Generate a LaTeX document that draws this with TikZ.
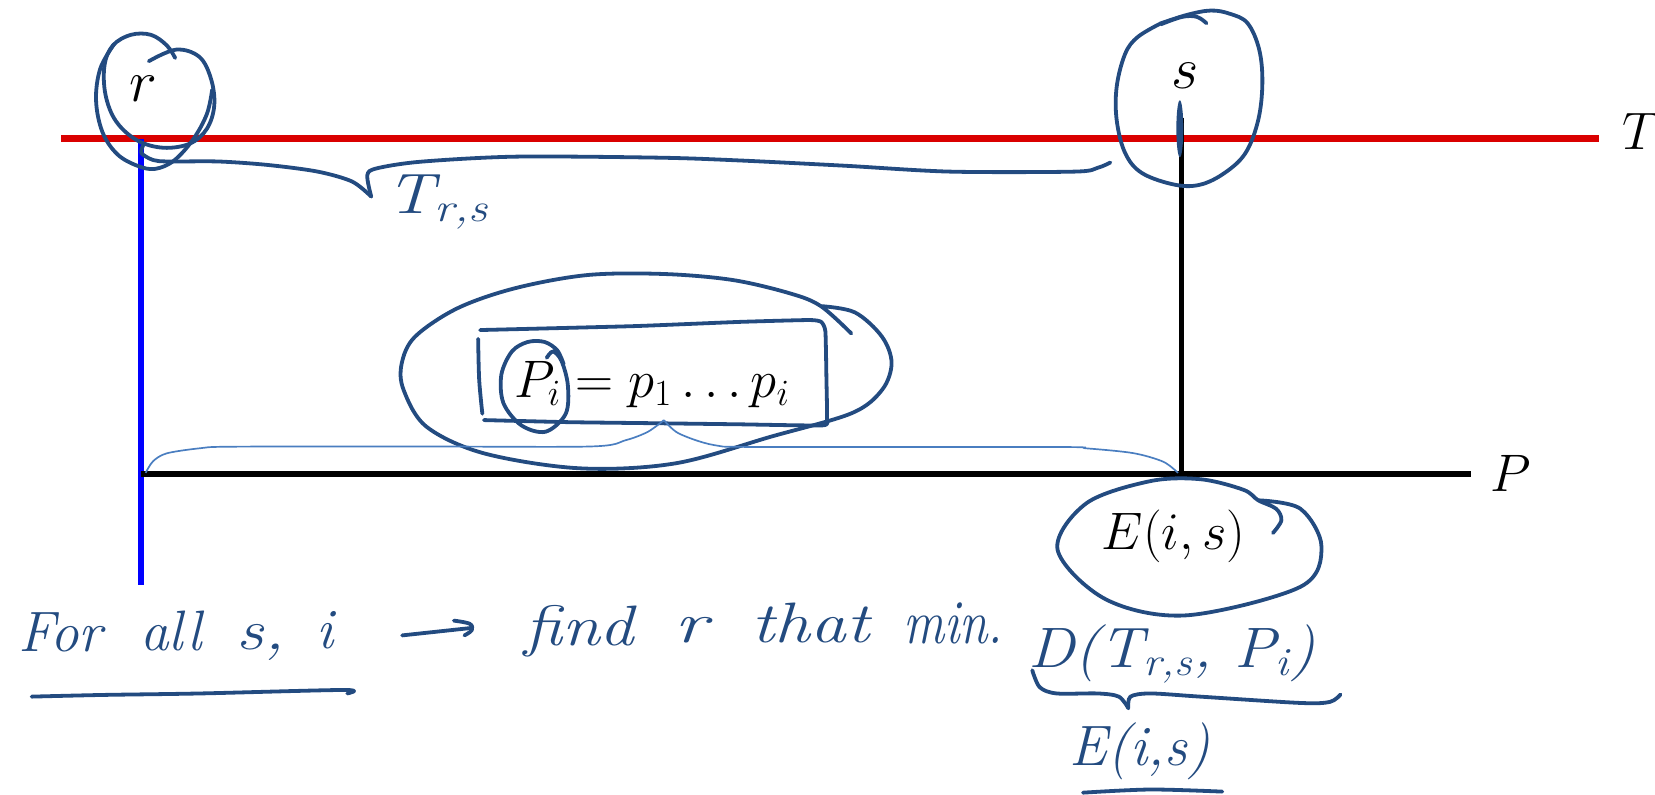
\RequirePackage{fix-cm}
\documentclass[tikz,border=0pt]{standalone}
\definecolor{ink}{HTML}{234B80}
\definecolor{redline}{HTML}{DA0000}
\definecolor{thinblue}{HTML}{4A7EC0}
\begin{document}
\begin{tikzpicture}[x=0.5pt,y=-0.5pt,
  hand/.style={draw=ink,line width=1.8pt,line cap=round,line join=round},
  htxt/.style={text=ink,font=\fontsize{27}{32}\selectfont\itshape,inner sep=0pt,anchor=base},
  mtxt/.style={font=\fontsize{25}{30}\selectfont,inner sep=0pt,anchor=base},
  mbig/.style={font=\fontsize{28}{32}\selectfont,inner sep=0pt,anchor=base}]
\useasboundingbox (0,0) rectangle (1568,753);

% straight lines
\coordinate (Tl) at (58,131.4);
\coordinate (Tr) at (1515,131.4);
\coordinate (Bt) at (133.3,131.4);
\coordinate (Bb) at (133.3,554);
\coordinate (Pl) at (133.3,449);
\coordinate (Pr) at (1394,449);
\coordinate (St) at (1119.5,112);
\coordinate (Sb) at (1119.5,449);
\draw[draw=redline,line width=3.5pt] (Tl) -- (Tr);
\draw[draw=blue,line width=2.8pt] (Bt) -- (Bb);
\draw[draw=black,line width=2.4pt] (St) -- (Sb);
\draw[draw=black,line width=3.2pt] (Pl) -- (Pr);
\fill[ink] (1117.8,122) ellipse (3.3 and 27);

% typed labels
\node[mbig] (r) at (136,96) {$r$};
\node[mbig] (s) at (1123,84) {$s$};
\node[mtxt] (T) at (1555,142) {$T$};
\node[mtxt] (P) at (1431.5,466) {$P$};
\node[mtxt] (Pi) at (618,377) {$P_i = p_1 \ldots p_i$};
\node[mtxt] (E) at (1112,521) {$E(i,s)$};

% loops around r
\draw[hand] plot[smooth,tension=0.6] coordinates {(141,58) (167,47) (189,54) (200,75) (203,100) (196,122) (180,136) (155,140) (130,133) (110,115) (100,90) (99,62) (107,43) (124,33) (143,33) (158,43) (166,55)};
\draw[hand] plot[smooth,tension=0.6] coordinates {(108,42) (95,65) (91,95) (97,125) (111,146) (130,157) (147,160) (165,152) (183,132) (196,108) (201,85)};

% loop around s
\draw[hand] plot[smooth,tension=0.6] coordinates {(1100,22) (1078,35) (1066,51) (1058,82) (1058,114) (1066,145) (1082,164) (1113,175) (1137,175) (1160,164) (1180,145) (1192,114) (1196,79) (1193,47) (1182,22) (1165,13) (1147,10) (1125,14) (1100,22)};
\draw[hand] plot[smooth,tension=0.6] coordinates {(1100,23) (1120,16) (1134,16) (1143,22)};

% brace under T
\draw[hand] plot[smooth,tension=0.5] coordinates {(136,137) (134,145) (145,151.6) (159.5,153) (206.7,153) (253.8,156.3) (301,162.6) (333.6,172) (351.7,186.3)};
\draw[hand] plot[smooth,tension=0.5] coordinates {(351.7,186.3) (348,166) (357,159.5) (398.8,153.2) (489.5,148.4) (625,149.4) (700,152) (800,157) (900,162.6) (1018,162.6) (1040,159) (1052,154)};
\node[htxt] (Trs) at (415,202) {\scalebox{1.2}[1]{T\textsubscript{r,s}}};

% big ellipse, box and small loop around P_i
\draw[hand] plot[smooth,tension=0.55] coordinates {(777.6,290) (810,296) (835.6,319) (844.7,344) (835.6,369.5) (806.6,391.6) (730.5,413.7) (639.8,439) (549.2,443.7) (458.5,429.5) (404.1,404.3) (382.4,369.5) (380.6,344.3) (393.2,319) (433.1,292.2) (487.5,273.2) (556.4,260.6) (629,259.6) (694.2,265.3) (748.6,278) (777.6,290) (806.6,316)};
\draw[hand] plot[smooth,tension=0.3] coordinates {(454.9,312.7) (600,309) (700,305) (766.7,303.2) (778,305) (782,314) (783,360) (783.5,396) (779.4,403) (700,402) (621.7,401) (540,400) (458.5,398)};
\draw[hand] plot[smooth,tension=0.5] coordinates {(453,321) (454,360) (457,392)};
\draw[hand] plot[smooth,tension=0.55] coordinates {(518,339) (524,333) (532,342) (538,365) (536,392) (517,409) (494,403) (477,382) (475,355) (485,333) (500,324) (516,324) (528,332) (534,345)};

% thin brace over P
\draw[draw=thinblue,line width=0.8pt] plot[smooth,tension=0.5] coordinates {(138,448) (145,437) (158,429.5) (189.5,424.7) (221,423.2) (400,423) (560,423) (593,417) (614,409) (629,398)};
\draw[draw=thinblue,line width=0.8pt] plot[smooth,tension=0.5] coordinates {(629,398) (643,410.6) (676,421.6) (720,423.5) (1000,423.5) (1029.5,424.8) (1073.6,429.3) (1102,437.4) (1116,448)};

% ellipse around E(i,s)
\draw[hand] plot[smooth,tension=0.55] coordinates {(1192,474) (1232,482) (1252,518) (1232,556) (1124,583) (1048,568) (1002,521) (1029,477) (1089,456) (1137,454) (1178,464) (1192,474) (1209,482) (1214,493) (1206,505)};

% handwritten line
\node[htxt] (w1) at (57,617) {For};
\node[htxt] (w2) at (162,616) {all};
\node[htxt] (w3) at (247,615) {\scalebox{1.2}[1]{s,}};
\node[htxt] (w4) at (308,614) {i};
\draw[hand] plot[smooth,tension=0.5] coordinates {(30,660) (98,658.4) (190,657) (326,653.7) (329,657)};
\coordinate (a1) at (381,602);
\coordinate (a2) at (446,595);
\draw[hand] (a1) -- (a2);
\draw[hand] plot[smooth,tension=0.6] coordinates {(430,588) (445,591) (447,597) (440,602)};
\node[htxt] (w5) at (549,612) {\scalebox{1.2}[1]{find}};
\node[htxt] (w6) at (655,609) {\scalebox{1.4}[1]{r}};
\node[htxt] (w7) at (768,609) {\scalebox{1.25}[1]{that}};
\node[htxt] (w8) at (903,610) {\scalebox{0.9}[1.1]{min.}};
\node[htxt] (w9) at (1110,632) {\scalebox{1.1}[1]{D(T\textsubscript{r,s}, P\textsubscript{i})}};
\draw[hand] plot[smooth,tension=0.5] coordinates {(978,635) (985,651) (1001,657) (1040,657) (1060,660) (1069,671)};
\draw[hand] plot[smooth,tension=0.5] coordinates {(1069,671) (1071,660) (1090,657) (1137,660) (1232,666) (1260,665) (1270,658)};
\node[htxt] (w10) at (1080,725) {E(i,s)};
\draw[hand] plot[smooth,tension=0.5] coordinates {(1026,751) (1090,748) (1158,750)};
\end{tikzpicture}
\end{document}
